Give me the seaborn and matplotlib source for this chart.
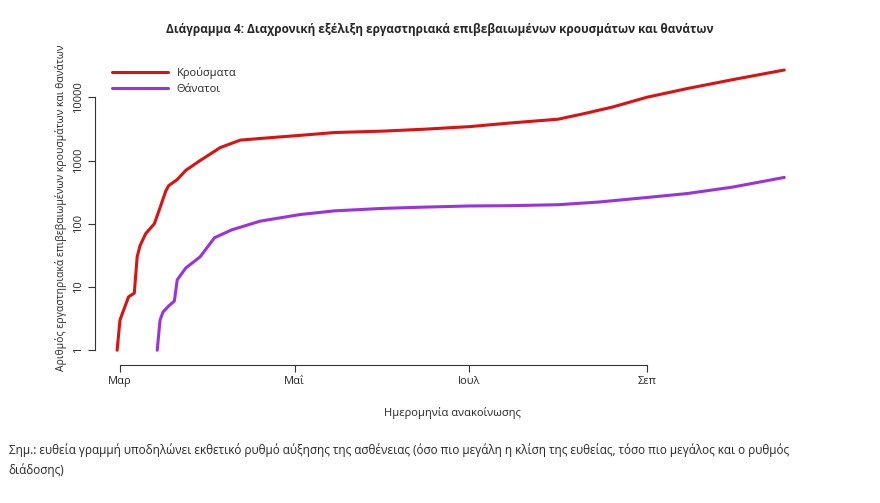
import matplotlib
matplotlib.use("Agg")
import matplotlib.pyplot as plt
import matplotlib.dates as mdates
import seaborn as sns
import pandas as pd
import numpy as np

case_dates = ["2020-02-29","2020-03-01","2020-03-02","2020-03-04","2020-03-06","2020-03-07","2020-03-08","2020-03-10",
              "2020-03-13","2020-03-15","2020-03-17","2020-03-18","2020-03-21","2020-03-24","2020-03-29","2020-04-05",
              "2020-04-12","2020-04-20","2020-05-03","2020-05-15","2020-06-01","2020-06-15",
              "2020-07-01","2020-07-15","2020-08-01","2020-08-10","2020-08-20","2020-09-01","2020-09-15","2020-10-01","2020-10-19"]
cases = [1,3,4,7,8,30,45,70,100,180,330,400,500,700,1000,1600,2100,2250,2500,2770,2917,3121,
         3432,3910,4500,5500,7000,10000,13700,19000,27000]
death_dates = ["2020-03-14","2020-03-15","2020-03-16","2020-03-18","2020-03-20","2020-03-21","2020-03-24","2020-03-29",
               "2020-04-03","2020-04-09","2020-04-19","2020-05-03","2020-05-15","2020-06-01","2020-06-15",
               "2020-07-01","2020-07-15","2020-08-01","2020-08-15","2020-09-01","2020-09-15","2020-10-01","2020-10-19"]
deaths = [1,3,4,5,6,13,20,30,60,80,110,140,160,175,183,191,193,200,220,260,300,380,540]
tick_dates = ["2020-03-01","2020-05-01","2020-07-01","2020-09-01"]
tick_labels = ["Μαρ","Μαΐ","Ιουλ","Σεπ"]
y_ticks = [1,10,100,1000,10000]

sns.set_style("white")
plt.rcParams['font.family'] = ['Open Sans', 'DejaVu Sans']

df_c = pd.DataFrame({"date": pd.to_datetime(case_dates), "v": cases})
df_d = pd.DataFrame({"date": pd.to_datetime(death_dates), "v": deaths})

fig = plt.figure(figsize=(8.8, 5.03), dpi=100)
ax = fig.add_axes([0.108, 0.274, 0.8125, 0.626])
sns.lineplot(data=df_c, x="date", y="v", ax=ax, color="#dd1111", lw=2.2, label="Κρούσματα")
sns.lineplot(data=df_d, x="date", y="v", ax=ax, color="#9933dd", lw=2.2, label="Θάνατοι")
ax.set_yscale("log")
ax.set_ylim(0.58, 55300)
ax.set_xlim(pd.Timestamp("2020-02-21 07:00"), pd.Timestamp("2020-10-28"))
ax.set_yticks(y_ticks)
ax.set_yticklabels([str(t) for t in y_ticks], fontsize=8)
ax.minorticks_off()
ax.set_xticks(pd.to_datetime(tick_dates))
ax.set_xticklabels(tick_labels, fontsize=8)
ax.tick_params(axis="both", length=5, width=0.8, color="#333", direction="out", left=True, bottom=True, pad=3)
ax.tick_params(axis="y", labelrotation=90)
for lab in ax.get_yticklabels():
    lab.set_va("center")
for s in ["top","right"]:
    ax.spines[s].set_visible(False)
ax.spines["left"].set_bounds(1, 10000)
ax.spines["bottom"].set_bounds(mdates.date2num(pd.Timestamp("2020-03-01")), mdates.date2num(pd.Timestamp("2020-09-01")))
ax.spines["left"].set_color("#333")
ax.spines["bottom"].set_color("#333")
ax.set_xlabel("Ημερομηνία ανακοίνωσης", fontsize=8, labelpad=14)
ax.set_ylabel("Αριθμός εργαστηριακά επιβεβαιωμένων κρουσμάτων και θανάτων", fontsize=7.5, labelpad=4)
ax.legend(loc="upper left", bbox_to_anchor=(0.01, 0.98), frameon=False, fontsize=8, handlelength=5)
fig.text(0.5, 0.935, "Διάγραμμα 4: Διαχρονική εξέλιξη εργαστηριακά επιβεβαιωμένων κρουσμάτων και θανάτων",
         ha="center", fontsize=8.5, fontweight="bold")
fig.text(0.01, 0.085, "Σημ.: ευθεία γραμμή υποδηλώνει εκθετικό ρυθμό αύξησης της ασθένειας (όσο πιο μεγάλη η κλίση της ευθείας, τόσο πιο μεγάλος και ο ρυθμός\nδιάδοσης)",
         fontsize=8.5, va="center", linespacing=1.6)
fig.savefig("out.png", dpi=100)
